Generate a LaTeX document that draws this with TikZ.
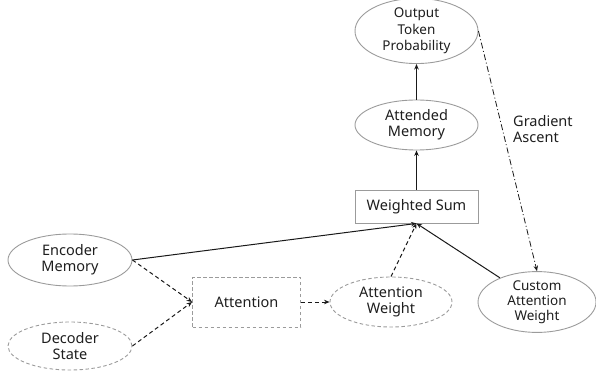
\documentclass[tikz,border=0pt]{standalone}
\usepackage{fontspec}
\setmainfont{Noto Sans}
\definecolor{edgegray}{RGB}{155,155,155}
\definecolor{inkdark}{RGB}{25,25,25}
\definecolor{textdark}{RGB}{30,30,30}
\usetikzlibrary{arrows.meta,positioning,shapes.geometric}

\begin{document}
\begin{tikzpicture}[x=1pt,y=-1pt,
    font=\fontsize{14.5}{16}\selectfont,text=textdark,
    solidell/.style={draw=edgegray,line width=0.9pt,ellipse,inner sep=0pt,align=center},
    dashell/.style={solidell,dash pattern=on 3.5pt off 2.5pt},
    box/.style={draw=edgegray,line width=0.9pt,inner sep=0pt,align=center},
    dashbox/.style={box,dash pattern=on 3.5pt off 2.5pt},
    flow/.style={-{Stealth[length=5.5pt,width=4.5pt]},inkdark,line width=1pt},
    dflow/.style={flow,dash pattern=on 4pt off 3pt},
    grad/.style={flow,line width=0.8pt,dash pattern=on 6pt off 2.5pt on 1pt off 2.5pt}]
  \useasboundingbox (0,0) rectangle (596,371);
  \node[solidell,minimum width=123,minimum height=48,font=\fontsize{13.5}{16.5}\selectfont] (out) at (416.5,31) {Output\\Token\\Probability};
  \node[solidell,minimum width=123,minimum height=50] (attmem) at (416.5,125) {Attended\\Memory};
  \node[box,minimum width=123,minimum height=33] (wsum) at (416.5,206.5) {Weighted Sum};
  \node[solidell,minimum width=124,minimum height=52] (enc) at (70,260) {Encoder\\Memory};
  \node[dashell,minimum width=124,minimum height=48] (dec) at (70,346) {Decoder\\State};
  \node[dashbox,minimum width=108,minimum height=50] (attn) at (246.5,302) {Attention};
  \node[dashell,minimum width=122,minimum height=50] (aweight) at (391,302) {Attention\\Weight};
  \node[solidell,minimum width=118,minimum height=52,font=\fontsize{13.5}{15}\selectfont] (cweight) at (537,302) {Custom\\Attention\\Weight};
  \node[anchor=north west,align=left,inner sep=0pt] (gasc) at (513,115) {Gradient\\Ascent};

  \draw[flow] (attmem) -- (out);
  \draw[flow] (wsum) -- (attmem);
  \draw[flow] (enc.east) -- (wsum.south);
  \draw[dflow] (enc.east) -- (attn.west);
  \draw[dflow] (dec.east) -- (attn.west);
  \draw[dflow] (attn) -- (aweight);
  \draw[dflow] (aweight.north) -- (wsum.south);
  \draw[flow] (cweight) -- (wsum.south);
  \draw[grad] (out.east) -- (cweight.north);
\end{tikzpicture}
\end{document}
